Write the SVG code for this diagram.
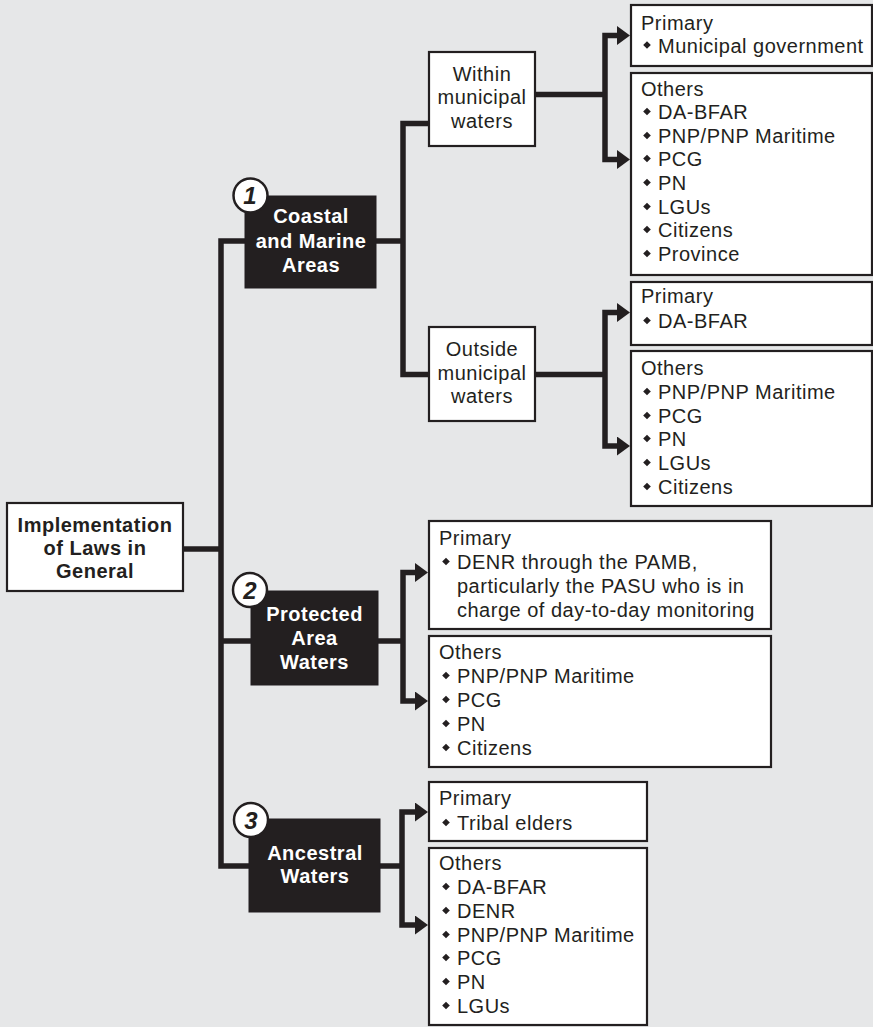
<svg xmlns="http://www.w3.org/2000/svg" width="873" height="1027" viewBox="0 0 873 1027">
<defs>
<marker id="ah" markerUnits="userSpaceOnUse" markerWidth="13" markerHeight="19" viewBox="0 0 13 19" refX="0" refY="9.5" orient="auto-start-reverse">
<path d="M0,0 L13,9.5 L0,19 z" fill="#231f20"/>
</marker>
<path id="d" d="M0,-3.8 L3.8,0 L0,3.8 L-3.8,0 z"/>
</defs>
<style>
.bg{fill:#e6e7e8}
.wb{fill:#ffffff;stroke:#231f20;stroke-width:2.2}
.db{fill:#231f20;stroke:#231f20;stroke-width:1}
.num{fill:#ffffff;stroke:#231f20;stroke-width:2.5}
.numt{font-family:"Liberation Sans",Arial,sans-serif;font-weight:bold;font-style:italic;font-size:24px;fill:#231f20;text-anchor:middle}
.c{fill:none;stroke:#231f20;stroke-width:5.5;stroke-linejoin:miter}
.ar{marker-start:url(#ah);marker-end:url(#ah)}
.t{font-family:"Liberation Sans",Arial,sans-serif;font-size:20px;letter-spacing:0.5px;fill:#231f20}
.m{text-anchor:middle}
.b{font-weight:bold}
.w{fill:#ffffff}
use{fill:#231f20}
</style>
<rect class="bg" x="0" y="0" width="873" height="1027"/>

<g id="connectors">
<path class="c" d="M183,549 H221"/>
<path class="c" d="M245,241 H221 V866 H249"/>
<path class="c" d="M221,641 H251"/>
<path class="c" d="M376,241 H403"/>
<path class="c" d="M429,123.5 H403 V374.5 H429"/>
<path class="c" d="M535,94.5 H605"/>
<path class="c ar" d="M617,35.5 H605 V159.5 H617"/>
<path class="c" d="M535,374.5 H605"/>
<path class="c ar" d="M617,312.5 H605 V446 H617"/>
<path class="c" d="M378,641 H403"/>
<path class="c ar" d="M415,572.5 H403 V701 H415"/>
<path class="c" d="M380,866 H402"/>
<path class="c ar" d="M415,812 H402 V925 H415"/>
</g>

<g id="root">
<rect class="wb" x="7" y="503" width="176" height="88"/>
<text class="t b m" x="95" y="532">Implementation</text>
<text class="t b m" x="95" y="555">of Laws in</text>
<text class="t b m" x="95" y="578">General</text>
</g>

<g id="coastal">
<rect class="db" x="245" y="196" width="131" height="92"/>
<text class="t b m w" x="311" y="223">Coastal</text>
<text class="t b m w" x="311" y="248">and Marine</text>
<text class="t b m w" x="311" y="272">Areas</text>
<circle class="num" cx="250.5" cy="195.5" r="17"/>
<text class="numt" x="250" y="204">1</text>
</g>

<g id="protected">
<rect class="db" x="251" y="591" width="127" height="94"/>
<text class="t b m w" x="314.5" y="621">Protected</text>
<text class="t b m w" x="314.5" y="645">Area</text>
<text class="t b m w" x="314.5" y="669">Waters</text>
<circle class="num" cx="250" cy="590" r="17"/>
<text class="numt" x="250" y="598.5">2</text>
</g>

<g id="ancestral">
<rect class="db" x="249" y="819" width="131" height="93"/>
<text class="t b m w" x="315" y="860">Ancestral</text>
<text class="t b m w" x="315" y="883">Waters</text>
<circle class="num" cx="251" cy="820" r="17"/>
<text class="numt" x="251" y="828.5">3</text>
</g>

<g id="within">
<rect class="wb" x="429" y="52" width="106" height="94"/>
<text class="t m" x="482" y="81">Within</text>
<text class="t m" x="482" y="104">municipal</text>
<text class="t m" x="482" y="128">waters</text>
</g>

<g id="outside">
<rect class="wb" x="429" y="327" width="106" height="94"/>
<text class="t m" x="482" y="356">Outside</text>
<text class="t m" x="482" y="380">municipal</text>
<text class="t m" x="482" y="403">waters</text>
</g>

<g id="within-primary">
<rect class="wb" x="631" y="5" width="241" height="61"/>
<text class="t" x="641" y="30">Primary</text>
<use href="#d" x="647" y="45"/>
<text class="t" x="658" y="53">Municipal government</text>
</g>

<g id="within-others">
<rect class="wb" x="631" y="73" width="241" height="202"/>
<text class="t" x="641" y="96">Others</text>
<use href="#d" x="647" y="111.5"/>
<text class="t" x="658" y="119">DA-BFAR</text>
<use href="#d" x="647" y="135.5"/>
<text class="t" x="658" y="143">PNP/PNP Maritime</text>
<use href="#d" x="647" y="158.5"/>
<text class="t" x="658" y="166">PCG</text>
<use href="#d" x="647" y="182.5"/>
<text class="t" x="658" y="190">PN</text>
<use href="#d" x="647" y="206.5"/>
<text class="t" x="658" y="214">LGUs</text>
<use href="#d" x="647" y="229.5"/>
<text class="t" x="658" y="237">Citizens</text>
<use href="#d" x="647" y="253.5"/>
<text class="t" x="658" y="261">Province</text>
</g>

<g id="outside-primary">
<rect class="wb" x="631" y="282" width="241" height="63"/>
<text class="t" x="641" y="303">Primary</text>
<use href="#d" x="647" y="320.5"/>
<text class="t" x="658" y="328">DA-BFAR</text>
</g>

<g id="outside-others">
<rect class="wb" x="631" y="351" width="241" height="155"/>
<text class="t" x="641" y="375">Others</text>
<use href="#d" x="647" y="391.5"/>
<text class="t" x="658" y="399">PNP/PNP Maritime</text>
<use href="#d" x="647" y="415.5"/>
<text class="t" x="658" y="423">PCG</text>
<use href="#d" x="647" y="438.5"/>
<text class="t" x="658" y="446">PN</text>
<use href="#d" x="647" y="462.5"/>
<text class="t" x="658" y="470">LGUs</text>
<use href="#d" x="647" y="486.5"/>
<text class="t" x="658" y="494">Citizens</text>
</g>

<g id="protected-primary">
<rect class="wb" x="429" y="521" width="342" height="108"/>
<text class="t" x="439" y="545">Primary</text>
<use href="#d" x="446" y="561.5"/>
<text class="t" x="457" y="569">DENR through the PAMB,</text>
<text class="t" x="457" y="593">particularly the PASU who is in</text>
<text class="t" x="457" y="617">charge of day-to-day monitoring</text>
</g>

<g id="protected-others">
<rect class="wb" x="429" y="636" width="342" height="131"/>
<text class="t" x="439" y="659">Others</text>
<use href="#d" x="446" y="675.5"/>
<text class="t" x="457" y="683">PNP/PNP Maritime</text>
<use href="#d" x="446" y="699.5"/>
<text class="t" x="457" y="707">PCG</text>
<use href="#d" x="446" y="723.5"/>
<text class="t" x="457" y="731">PN</text>
<use href="#d" x="446" y="747.5"/>
<text class="t" x="457" y="755">Citizens</text>
</g>

<g id="ancestral-primary">
<rect class="wb" x="429" y="782" width="218" height="59"/>
<text class="t" x="439" y="805">Primary</text>
<use href="#d" x="446" y="822.5"/>
<text class="t" x="457" y="830">Tribal elders</text>
</g>

<g id="ancestral-others">
<rect class="wb" x="429" y="848" width="218" height="177"/>
<text class="t" x="439" y="870">Others</text>
<use href="#d" x="446" y="886.5"/>
<text class="t" x="457" y="894">DA-BFAR</text>
<use href="#d" x="446" y="910.5"/>
<text class="t" x="457" y="918">DENR</text>
<use href="#d" x="446" y="934.5"/>
<text class="t" x="457" y="942">PNP/PNP Maritime</text>
<use href="#d" x="446" y="957.5"/>
<text class="t" x="457" y="965">PCG</text>
<use href="#d" x="446" y="981.5"/>
<text class="t" x="457" y="989">PN</text>
<use href="#d" x="446" y="1005.5"/>
<text class="t" x="457" y="1013">LGUs</text>
</g>
</svg>
